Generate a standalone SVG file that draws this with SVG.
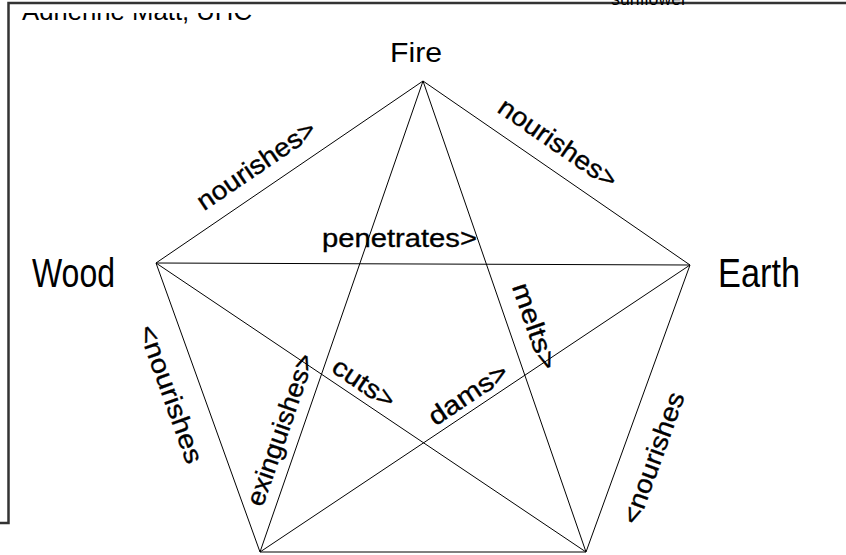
<svg xmlns="http://www.w3.org/2000/svg" width="846" height="555" viewBox="0 0 846 555">
<style>
.edge{stroke:#000;stroke-width:1;fill:none}
.frame{stroke:#333;stroke-width:2.5;fill:none}
.node{font-family:"Liberation Sans",Arial,sans-serif;fill:#000}
.lbl{font-family:"Liberation Sans",Arial,sans-serif;font-size:26px;fill:#000;stroke:#000;stroke-width:0.35;text-anchor:middle}
</style>
<defs>
<clipPath id="hdrclip"><rect x="10" y="13" width="320" height="20"/></clipPath>
</defs>
<rect width="846" height="555" fill="#fff"/>
<g id="frame">
<polyline class="frame" points="846,3 8.5,3 8.5,523 0,523"/>
<text class="node" x="611" y="5" font-size="18" textLength="76" lengthAdjust="spacingAndGlyphs">sunflower</text>
<text class="node" x="22" y="19.5" font-size="25.7" textLength="230" lengthAdjust="spacingAndGlyphs" clip-path="url(#hdrclip)">Adrienne Matt, UHC</text>
</g>
<g id="connectors">
<polygon class="edge" points="423,81 690,265 586,552 260,552 156,263"/>
<line class="edge" x1="423" y1="81" x2="260" y2="552"/>
<line class="edge" x1="423" y1="81" x2="586" y2="552"/>
<line class="edge" x1="156" y1="263" x2="690" y2="265"/>
<line class="edge" x1="156" y1="263" x2="586" y2="552"/>
<line class="edge" x1="690" y1="265" x2="260" y2="552"/>
</g>
<g id="labels">
<text class="lbl" transform="translate(256,165) rotate(-34.3)" y="9" textLength="138" lengthAdjust="spacingAndGlyphs">nourishes&gt;</text>
<text class="lbl" transform="translate(558,143) rotate(34.6)" y="9" textLength="138" lengthAdjust="spacingAndGlyphs">nourishes&gt;</text>
<text class="lbl" x="399.5" y="247" textLength="155" lengthAdjust="spacingAndGlyphs">penetrates&gt;</text>
<text class="lbl" transform="translate(171,394) rotate(70.2)" y="9" textLength="145" lengthAdjust="spacingAndGlyphs">&lt;nourishes</text>
<text class="lbl" transform="translate(653,458) rotate(-70.1)" y="9" textLength="138" lengthAdjust="spacingAndGlyphs">&lt;nourishes</text>
<text class="lbl" transform="translate(281,430) rotate(-70.9)" y="8" textLength="159" lengthAdjust="spacingAndGlyphs">exinguishes&gt;</text>
<text class="lbl" transform="translate(364,383) rotate(33.9)" y="9" textLength="70" lengthAdjust="spacingAndGlyphs">cuts&gt;</text>
<text class="lbl" transform="translate(468,394) rotate(-33.7)" y="9" textLength="90" lengthAdjust="spacingAndGlyphs">dams&gt;</text>
<text class="lbl" transform="translate(535,326) rotate(70.9)" y="9" textLength="90" lengthAdjust="spacingAndGlyphs">melts&gt;</text>
</g>
<g id="node-fire"><text class="node" x="390" y="62" font-size="28" textLength="52" lengthAdjust="spacingAndGlyphs">Fire</text></g>
<g id="node-wood"><text class="node" x="32" y="287" font-size="40" textLength="83" lengthAdjust="spacingAndGlyphs">Wood</text></g>
<g id="node-earth"><text class="node" x="718" y="287" font-size="40" textLength="82" lengthAdjust="spacingAndGlyphs">Earth</text></g>
</svg>
